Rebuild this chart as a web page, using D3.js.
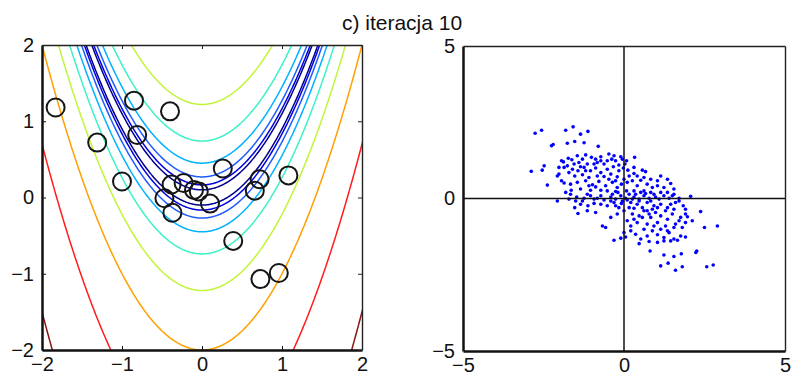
<!DOCTYPE html>
<html>
<head>
<meta charset="utf-8">
<script src="https://cdnjs.cloudflare.com/ajax/libs/d3/7.8.5/d3.min.js"></script>
<style>
  html, body { margin: 0; padding: 0; background: #fff; }
  svg { display: block; }
  text { font-family: "Liberation Sans", Arial, sans-serif; fill: #111; }
</style>
</head>
<body>
<div id="chart"></div>
<script>
// c) iteracja 10 -- contours of the target plus current particles (left),
// proposal samples (right).

// contour levels of |y - x^2|, low -> high
var levelValues = [0.10, 0.165, 0.27, 0.45, 0.74, 1.22, 2.0, 3.3, 5.5];
var levelColors = ['#00008f', '#0000e0', '#1f5cff', '#00b2ff', '#3cf2c6',
                   '#c2f53a', '#ffa000', '#ff1c1c', '#8a1414'];

// particles (circles) on the left panel
var circleX = [-1.83, -0.85, -0.40, -1.31, -0.81, -1.00, 0.26, 0.72, 1.08, 0.66,
               -0.38, -0.23, -0.10, -0.04, -0.47, -0.37, 0.10, 0.39, 0.73, 0.96];
var circleY = [1.18, 1.27, 1.13, 0.72, 0.82, 0.21, 0.38, 0.24, 0.29, 0.09,
               0.17, 0.19, 0.10, 0.08, -0.01, -0.20, -0.08, -0.57, -1.07, -0.99];

// samples on the right panel
var sampleX = [
  -2.76, -2.56, -1.81, -1.58, -1.35, -1.12, -2.25, -2.20, -1.76, -1.53, -1.24, -0.80,
  -1.94, -1.88, -1.73, -1.62, -1.45, -1.29, -1.19, -1.01, -0.88, -0.72, -0.47, -0.38,
  -0.05, 0.08, 0.03, 0.33, -1.40, -1.14, -0.83, -0.62, -0.26, -0.16,
  -2.48, -2.54, -2.88, -2.02, -1.76, -1.60, -1.43, -1.24, -1.04, -0.88, -0.72, -0.52,
  -0.33, -0.16, -0.02, 0.12, 0.31, 0.57, 0.67, -1.53, -1.29, -1.09, -0.83, -0.62,
  -0.41, -0.21, -2.02, -2.07,
  -2.38, -1.94, -1.86, -1.66, -1.45, -1.19, -0.98, -0.78, -0.57, -0.36, -0.21, -0.08,
  0.10, 0.26, 0.41, 0.52, 0.72, 0.88, 1.04, 1.24, 1.45, 1.55, 0.31, 0.62,
  0.08, -0.26, -0.72, -1.04, -1.35, -1.64,
  -2.07, -1.71, -1.47, -1.24, -1.04, -0.83, -0.62, -0.41, -0.26, -0.10, 0.05, 0.16,
  0.31, 0.47, 0.62, 0.78, 0.93, 1.09, 1.24, 1.40, 1.55, 1.71, 2.07, -1.53,
  -1.35, -1.12, -0.93, -0.72, -0.52, -0.31, -0.16, 0.21, 0.41, 0.57, 0.72, 0.93,
  1.14, 1.35, 1.55, 1.71,
  -1.43, -1.14, -0.88, -0.67, -0.57, -0.41, -0.21, 0.00, 0.26, 0.47, 0.62, 0.83,
  0.98, 1.14, 1.35, 1.50, 1.71, 1.91, 1.97, 2.38, 2.90, 2.50, 0.10, 0.41,
  0.72, 1.04, 1.29, 1.60, 1.81,
  -0.31, -0.10, 0.05, 0.21, 0.36, 0.52, 0.72, 0.88, 1.04, 1.24, 1.40, 1.55,
  1.76, 1.91, 0.47, 0.78, 1.04, 1.24, 1.45, 1.66, 0.00,
  0.81, 1.24, 1.55, 1.78, 2.23, 2.26, 1.14, 1.37, 1.60, 1.81, 2.57, 2.77,
  // denser core
  -0.52, -0.36, -0.19, -0.05, 0.10, 0.26, 0.36, 0.52, 0.67, 0.83, 0.98, 1.14,
  1.35, 1.50, -0.41, -0.26, -0.08, 0.16, 0.31, 0.47, 0.72, 0.88, 1.04, 1.29,
  1.45, 1.60, 1.84, 1.91, -0.72, -0.93, -1.14, -1.29, -1.50, -1.66, -1.81, -1.09,
  -0.88, -0.47, -0.26, 0.00, 0.16, -1.19, -1.35, -1.55, -1.71, -1.86, -0.93, -0.72,
  -0.52, -0.31, -0.10, 0.31, 0.41, 0.62, 0.83, 1.04, 1.14, 1.35, 0.83, 0.78,
  0.57, 0.31, 0.21, 0.62, 0.93, 1.14, 1.35, 1.55, 1.76, 1.91, 2.12
];
var sampleY = [
  2.14, 2.24, 2.24, 2.35, 2.11, 2.20, 1.73, 1.77, 1.81, 1.87, 1.83, 1.71,
  1.24, 1.20, 1.32, 1.27, 1.40, 1.29, 1.43, 1.35, 1.29, 1.37, 1.46, 1.29,
  1.29, 1.24, 1.13, 1.35, 1.18, 1.13, 1.18, 1.13, 1.24, 1.10,
  1.07, 0.93, 0.89, 1.02, 1.07, 0.96, 0.91, 1.02, 0.91, 1.00, 0.85, 0.96,
  1.04, 0.91, 1.00, 0.93, 0.82, 0.93, 0.88, 0.74, 0.78, 0.69, 0.74, 0.72,
  0.80, 0.71, 0.80, 0.74,
  0.44, 0.58, 0.51, 0.47, 0.53, 0.58, 0.45, 0.56, 0.42, 0.53, 0.36, 0.47,
  0.53, 0.58, 0.42, 0.60, 0.47, 0.36, 0.42, 0.36, 0.49, 0.31, 0.25, 0.25,
  0.25, 0.23, 0.27, 0.27, 0.31, 0.27,
  -0.08, -0.02, 0.05, 0.01, 0.09, 0.01, -0.05, 0.05, -0.02, 0.09, 0.01, 0.14,
  0.05, -0.02, 0.09, 0.01, 0.14, -0.02, 0.09, 0.01, 0.14, 0.01, 0.07, -0.30,
  -0.19, -0.24, -0.16, -0.19, -0.24, -0.13, -0.30, -0.13, -0.19, -0.30, -0.13, -0.24,
  -0.19, -0.30, -0.35, -0.08,
  -0.49, -0.40, -0.46, -0.90, -0.95, -0.62, -0.51, -0.40, -0.51, -0.57, -0.40, -0.62,
  -0.46, -0.57, -0.68, -0.51, -0.73, -0.51, -0.60, -0.43, -0.90, -0.95, -0.73, -0.79,
  -0.84, -0.79, -0.90, -0.84, -0.95,
  -1.37, -1.30, -1.26, -1.06, -1.17, -1.33, -1.23, -1.06, -1.19, -1.28, -1.12, -1.33,
  -1.23, -1.26, -1.48, -1.41, -1.44, -1.39, -1.39, -1.37, -1.12,
  -1.72, -1.85, -1.90, -1.81, -1.77, -1.72, -2.21, -2.12, -2.35, -2.24, -2.24, -2.18,
  // denser core
  0.25, 0.14, 0.20, -0.08, -0.05, -0.02, 0.14, 0.20, 0.16, 0.20, 0.05, 0.20,
  0.20, 0.09, -0.08, -0.24, -0.16, -0.30, -0.32, -0.08, -0.40, -0.35, -0.30, -0.40,
  -0.19, -0.13, -0.24, -0.35, 0.09, -0.02, 0.14, -0.08, -0.08, 0.14, 0.20, 0.42,
  0.38, 0.63, 0.58, 0.63, 0.74, 0.91, 1.04, 1.13, 0.85, 1.02, 1.13, 1.24,
  1.24, 1.40, 1.37, 1.02, 0.74, 0.69, 0.63, 0.58, 0.74, 0.63, -0.08, -0.51,
  -0.62, -0.68, -0.90, -1.01, -0.90, -1.01, -1.06, -0.95, -0.62, -0.79, -0.73
];

var leftTicks = [-2, -1, 0, 1, 2];
var rightTicks = [-5, 0, 5];
var title = 'c) iteracja 10';

var W = 794, H = 377;
var svg = d3.select('#chart').append('svg')
  .attr('width', W).attr('height', H);
svg.append('rect').attr('width', W).attr('height', H).attr('fill', '#fff');

svg.append('text')
  .attr('x', 402).attr('y', 30)
  .attr('text-anchor', 'middle')
  .attr('font-size', '21px')
  .text(title);

function fmt(d) { return d < 0 ? '\u2212' + Math.abs(d) : String(d); }

// ---- left panel ----
var L = { left: 42, right: 362, top: 45, bottom: 350 };
var x1 = d3.scaleLinear().domain([-2, 2]).range([L.left, L.right]);
var y1 = d3.scaleLinear().domain([-2, 2]).range([L.bottom, L.top]);

var left = svg.append('g');
left.append('clipPath').attr('id', 'clipL')
  .append('rect')
  .attr('x', L.left).attr('y', L.top)
  .attr('width', L.right - L.left).attr('height', L.bottom - L.top);

// grid a bit bigger than the view so the edge segments get clipped away
var step = 0.01, gmin = -2.1, n = 421;
var field = new Array(n * n);
for (var j = 0; j < n; j++) {
  for (var i = 0; i < n; i++) {
    var gx = gmin + i * step, gy = gmin + j * step;
    field[j * n + i] = Math.abs(gy - gx * gx);
  }
}
var contours = d3.contours().size([n, n]).thresholds(levelValues)(field);
var toScreen = d3.geoTransform({
  point: function (u, v) {
    this.stream.point(x1(gmin + (u - 0.5) * step), y1(gmin + (v - 0.5) * step));
  }
});
var path = d3.geoPath(toScreen);

left.append('g')
  .attr('clip-path', 'url(#clipL)')
  .selectAll('path')
  .data(contours)
  .join('path')
  .attr('d', path)
  .attr('fill', 'none')
  .attr('stroke', function (d, k) { return levelColors[k]; })
  .attr('stroke-width', 1.5);

left.append('g')
  .attr('clip-path', 'url(#clipL)')
  .selectAll('circle')
  .data(circleX)
  .join('circle')
  .attr('cx', function (d) { return x1(d); })
  .attr('cy', function (d, k) { return y1(circleY[k]); })
  .attr('r', 9)
  .attr('fill', 'none')
  .attr('stroke', '#151515')
  .attr('stroke-width', 2);

// box + inward ticks, MATLAB style
function frame(g, xs, ys, ticks, box, tickLen) {
  g.append('g')
    .attr('transform', 'translate(0,' + box.bottom + ')')
    .call(d3.axisBottom(xs).tickValues(ticks).tickFormat(fmt)
      .tickSizeInner(-tickLen).tickSizeOuter(0).tickPadding(7))
    .call(function (a) {
      a.select('.domain').attr('stroke', '#111').attr('stroke-width', 2.5);
      a.selectAll('text').attr('font-size', '20px').attr('fill', '#111');
      a.selectAll('line').attr('stroke', '#111');
    });
  g.append('g')
    .attr('transform', 'translate(' + box.left + ',0)')
    .call(d3.axisLeft(ys).tickValues(ticks).tickFormat(fmt)
      .tickSizeInner(-tickLen).tickSizeOuter(0).tickPadding(8))
    .call(function (a) {
      a.select('.domain').attr('stroke', '#111').attr('stroke-width', 2.5);
      a.selectAll('text').attr('font-size', '20px').attr('fill', '#111');
      a.selectAll('line').attr('stroke', '#111');
    });
  g.append('g')
    .attr('transform', 'translate(0,' + box.top + ')')
    .call(d3.axisTop(xs).tickValues(ticks).tickFormat('')
      .tickSizeInner(-tickLen).tickSizeOuter(0))
    .call(function (a) {
      a.select('.domain').attr('stroke', '#222').attr('stroke-width', 1.4);
      a.selectAll('line').attr('stroke', '#222');
    });
  g.append('g')
    .attr('transform', 'translate(' + box.right + ',0)')
    .call(d3.axisRight(ys).tickValues(ticks).tickFormat('')
      .tickSizeInner(-tickLen).tickSizeOuter(0))
    .call(function (a) {
      a.select('.domain').attr('stroke', '#222').attr('stroke-width', 1.4);
      a.selectAll('line').attr('stroke', '#222');
    });
}
frame(left, x1, y1, leftTicks, L, 4);

// ---- right panel ----
var R = { left: 463, right: 785, top: 46, bottom: 351 };
var x2 = d3.scaleLinear().domain([-5, 5]).range([R.left, R.right]);
var y2 = d3.scaleLinear().domain([-5, 5]).range([R.bottom, R.top]);
var right = svg.append('g');

right.append('g')
  .selectAll('circle')
  .data(sampleX)
  .join('circle')
  .attr('cx', function (d) { return x2(d); })
  .attr('cy', function (d, k) { return y2(sampleY[k]); })
  .attr('r', 1.8)
  .attr('fill', '#0000ff');

right.append('line')
  .attr('x1', x2(0)).attr('x2', x2(0))
  .attr('y1', R.top).attr('y2', R.bottom)
  .attr('stroke', '#111').attr('stroke-width', 1.5);
right.append('line')
  .attr('x1', R.left).attr('x2', R.right)
  .attr('y1', y2(0)).attr('y2', y2(0))
  .attr('stroke', '#111').attr('stroke-width', 1.5);

frame(right, x2, y2, rightTicks, R, 0);
</script>
</body>
</html>
